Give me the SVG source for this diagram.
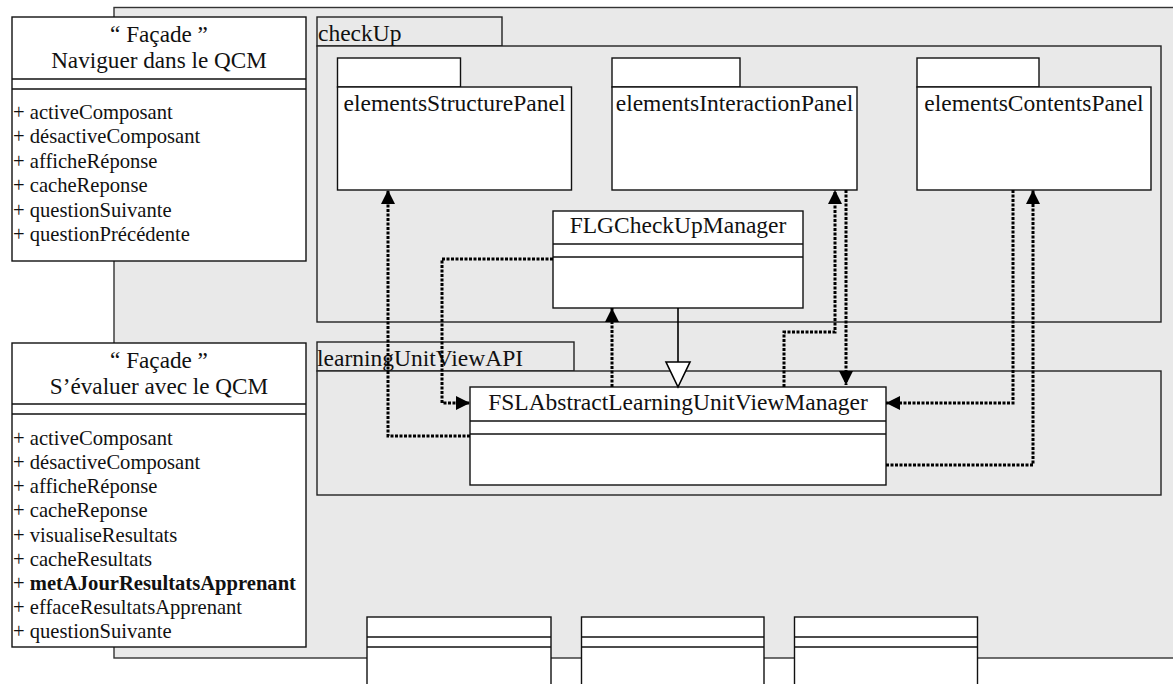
<svg xmlns="http://www.w3.org/2000/svg" width="1173" height="684" viewBox="0 0 1173 684">
<style>
.bg{fill:#e9e9e9;stroke:#333;stroke-width:1.4}
.pkg{fill:#e9e9e9;stroke:#222;stroke-width:1.4}
.box{fill:#fff;stroke:#111;stroke-width:1.4}
.sep{stroke:#111;stroke-width:1.4;fill:none}
.t{font-family:"Liberation Serif","Times New Roman",serif;font-size:23.5px;fill:#111}
.h{font-family:"Liberation Serif","Times New Roman",serif;font-size:23.2px;fill:#111;text-anchor:middle}
.i{font-family:"Liberation Serif","Times New Roman",serif;font-size:20.6px;fill:#111}
.c{text-anchor:middle}
.dot{fill:none;stroke:#000;stroke-width:3;stroke-dasharray:3 1.5}
.gen{fill:none;stroke:#000;stroke-width:1.6}
</style>
<defs>
<marker id="ah" viewBox="0 0 14 14" refX="14" refY="7" markerWidth="14" markerHeight="14" markerUnits="userSpaceOnUse" orient="auto">
<path d="M0,0 L14,7 L0,14 z" fill="#000"/>
</marker>
</defs>

<rect class="bg" x="114" y="7.5" width="1100" height="650.5"/>

<g id="pkg-checkUp">
<rect class="pkg" x="317" y="17" width="185" height="29"/>
<rect class="pkg" x="317" y="46" width="844" height="276"/>
<text class="t" x="318" y="41">checkUp</text>
</g>

<g id="pkg-learningUnitViewAPI">
<rect class="pkg" x="317" y="342" width="257" height="29"/>
<rect class="pkg" x="317" y="371" width="844" height="124"/>
<text class="t" x="317" y="366">learningUnitViewAPI</text>
</g>

<g id="elementsStructurePanel">
<rect class="box" x="337.5" y="58" width="123" height="29"/>
<rect class="box" x="337.5" y="87" width="234" height="103"/>
<text class="t c" x="454.5" y="111">elementsStructurePanel</text>
</g>

<g id="elementsInteractionPanel">
<rect class="box" x="612" y="58" width="128" height="29"/>
<rect class="box" x="612" y="87" width="245" height="103"/>
<text class="t c" x="734.5" y="111">elementsInteractionPanel</text>
</g>

<g id="elementsContentsPanel">
<rect class="box" x="917" y="58" width="122" height="29"/>
<rect class="box" x="917" y="87" width="234" height="103"/>
<text class="t c" x="1034" y="111">elementsContentsPanel</text>
</g>

<g id="FLGCheckUpManager">
<rect class="box" x="553" y="211" width="250" height="97"/>
<line class="sep" x1="553" y1="244" x2="803" y2="244"/>
<line class="sep" x1="553" y1="257" x2="803" y2="257"/>
<text class="t c" x="678" y="233">FLGCheckUpManager</text>
</g>

<g id="FSLAbstractLearningUnitViewManager">
<rect class="box" x="470" y="387" width="416" height="98"/>
<line class="sep" x1="470" y1="421" x2="886" y2="421"/>
<line class="sep" x1="470" y1="434" x2="886" y2="434"/>
<text class="t c" x="678" y="410">FSLAbstractLearningUnitViewManager</text>
</g>

<g id="connectors">
<path class="dot" d="M470,436 H388 V190" marker-end="url(#ah)"/>
<path class="dot" d="M553,259 H442 V403 H470" marker-end="url(#ah)"/>
<path class="dot" d="M612,387 V308" marker-end="url(#ah)"/>
<path class="dot" d="M784,387 V332 H835 V190" marker-end="url(#ah)"/>
<path class="dot" d="M846,190 V385" marker-end="url(#ah)"/>
<path class="dot" d="M1013,190 V403 H886" marker-end="url(#ah)"/>
<path class="dot" d="M886,465 H1033 V190" marker-end="url(#ah)"/>
<line class="gen" x1="678" y1="308" x2="678" y2="362"/>
<polygon points="666,362 690,362 678,387" fill="#fff" stroke="#000" stroke-width="1.6"/>
</g>

<g id="facade-naviguer">
<rect class="box" x="12" y="17" width="294" height="244"/>
<line class="sep" x1="12" y1="79" x2="306" y2="79"/>
<line class="sep" x1="12" y1="89" x2="306" y2="89"/>
<text class="h" x="159" y="41.5">“ Façade ”</text>
<text class="h" x="159" y="68">Naviguer dans le QCM</text>
<text class="i" x="13" y="119">+ activeComposant</text>
<text class="i" x="13" y="143.4">+ désactiveComposant</text>
<text class="i" x="13" y="167.8">+ afficheRéponse</text>
<text class="i" x="13" y="192.2">+ cacheReponse</text>
<text class="i" x="13" y="216.6">+ questionSuivante</text>
<text class="i" x="13" y="241">+ questionPrécédente</text>
</g>

<g id="facade-evaluer">
<rect class="box" x="12" y="343" width="294" height="304"/>
<line class="sep" x1="12" y1="404" x2="306" y2="404"/>
<line class="sep" x1="12" y1="414" x2="306" y2="414"/>
<text class="h" x="159" y="367.5">“ Façade ”</text>
<text class="h" x="159" y="394">S’évaluer avec le QCM</text>
<text class="i" x="13" y="445">+ activeComposant</text>
<text class="i" x="13" y="469.1">+ désactiveComposant</text>
<text class="i" x="13" y="493.3">+ afficheRéponse</text>
<text class="i" x="13" y="517.4">+ cacheReponse</text>
<text class="i" x="13" y="541.5">+ visualiseResultats</text>
<text class="i" x="13" y="565.6">+ cacheResultats</text>
<text class="i" x="13" y="589.8">+ <tspan font-weight="bold">metAJourResultatsApprenant</tspan></text>
<text class="i" x="13" y="613.9">+ effaceResultatsApprenant</text>
<text class="i" x="13" y="638">+ questionSuivante</text>
</g>

<g id="class-bottom-1">
<rect class="box" x="367" y="617" width="184" height="80"/>
<line class="sep" x1="367" y1="637" x2="551" y2="637"/>
<line class="sep" x1="367" y1="647" x2="551" y2="647"/>
</g>
<g id="class-bottom-2">
<rect class="box" x="581.5" y="617" width="182.5" height="80"/>
<line class="sep" x1="581.5" y1="637" x2="764" y2="637"/>
<line class="sep" x1="581.5" y1="647" x2="764" y2="647"/>
</g>
<g id="class-bottom-3">
<rect class="box" x="794.5" y="617" width="183" height="80"/>
<line class="sep" x1="794.5" y1="637" x2="977.5" y2="637"/>
<line class="sep" x1="794.5" y1="647" x2="977.5" y2="647"/>
</g>
</svg>
